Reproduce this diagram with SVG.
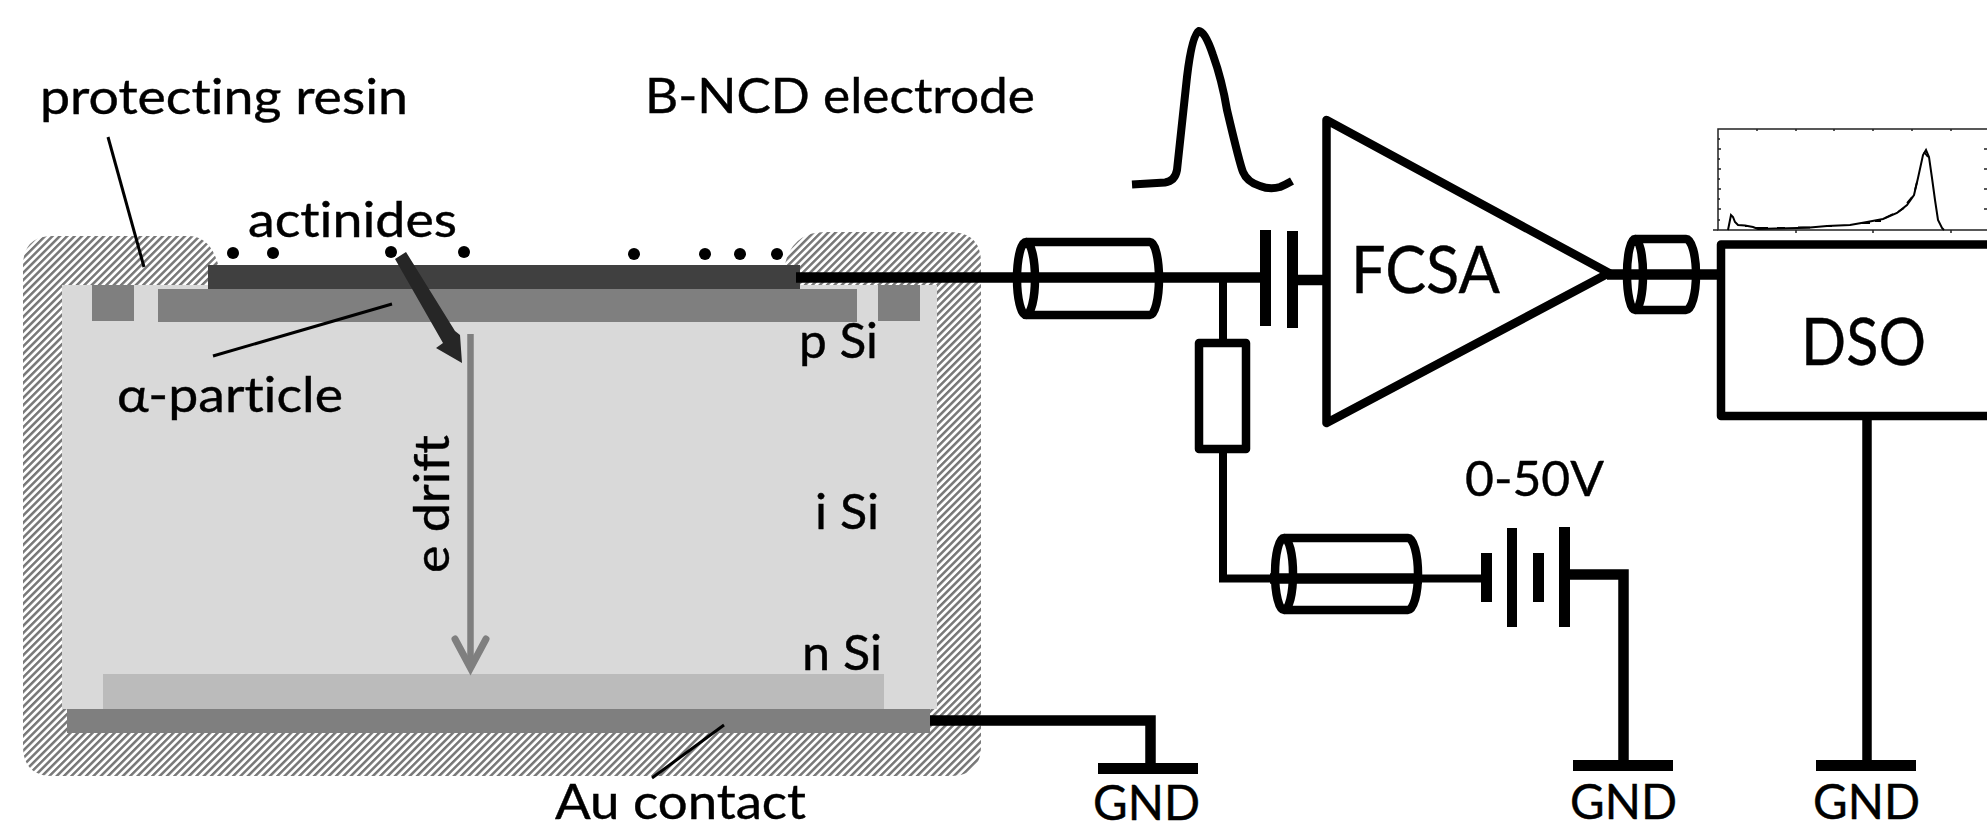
<svg xmlns="http://www.w3.org/2000/svg" width="1987" height="827" viewBox="0 0 1987 827">
<style>
text{font-family:"Lato","Open Sans","Liberation Sans",sans-serif;fill:#000;font-size:48px;font-variant-ligatures:none;stroke:#000;stroke-width:.4}
.big{font-size:66px}
.w{fill:none;stroke:#000;stroke-width:10.5}
.s{fill:none;stroke:#000;stroke-width:8.5;stroke-linejoin:round}
.f{fill:#fff;stroke:#000;stroke-width:8.5;stroke-linejoin:round}
.bar{fill:#000}
.lead{stroke:#000;stroke-width:3;fill:none}
.tick{stroke:#222;stroke-width:1.5;fill:none}
</style>
<defs>
<pattern id="hatch" width="5.2" height="5.2" patternUnits="userSpaceOnUse" patternTransform="rotate(45)">
<rect width="5.2" height="5.2" fill="#fff"/><rect width="2.5" height="5.2" fill="#777"/>
</pattern>
</defs>
<rect width="1987" height="827" fill="#fff"/>
<g id="detector">
<path id="resin" fill="url(#hatch)" d="M23,266Q23,236 53,236H188Q210,236 218,264V290H785V264Q793,232 825,232H950Q981,232 981,263V746Q981,776 950,776H53Q23,776 23,746Z"/>
<rect id="i-si" x="62" y="285" width="875" height="424" fill="#d9d9d9"/>
<rect id="n-si" x="103" y="674" width="781" height="35" fill="#bbb"/>
<rect id="au-contact" x="67" y="709" width="863" height="24" fill="#7f7f7f"/>
<rect id="p-si" x="158" y="289" width="699" height="33" fill="#7f7f7f"/>
<rect x="92" y="285" width="42" height="36" fill="#7f7f7f"/>
<rect x="878" y="285" width="42" height="36" fill="#7f7f7f"/>
<rect id="electrode" x="208" y="265" width="592" height="24" fill="#404040"/>
<g id="actinide-atoms" fill="#000">
<circle cx="233" cy="253" r="6"/><circle cx="273" cy="253" r="6"/><circle cx="391" cy="252" r="6"/><circle cx="464" cy="252" r="6"/>
<circle cx="634" cy="254" r="6"/><circle cx="705" cy="254" r="6"/><circle cx="740" cy="254" r="6"/><circle cx="777" cy="254" r="6"/>
</g>
<g id="alpha-arrow" fill="#262626">
<path d="M395,259L406,252L455,331L460,335L462,363L436,348L443,343Z"/>
</g>
<g id="drift-arrow" fill="none" stroke="#7f7f7f" stroke-width="6.5">
<path d="M470.5,334V668"/><path d="M455,639L470.5,668L486,639" stroke-width="7" stroke-linecap="round"/>
</g>
<path class="lead" d="M108,137L144,267"/>
<path class="lead" d="M392,304L213,356"/>
<path class="lead" d="M724,725L652,778"/>
</g>
<g id="connectors">
<path class="w" d="M796,277.5H1260"/>
<path class="w" d="M930,720.5H1150.5V763"/>
<path class="w" d="M1223,280V578.5H1483" style="stroke-width:8"/>
<path class="w" d="M1270,578.5H1422"/>
<path class="w" d="M1570,574.5H1623.5V762"/>
<path class="w" d="M1298,280H1326"/>
<path class="w" d="M1607,274.5H1722"/>
<path class="w" d="M1867,416V762" style="stroke-width:9.5"/>
</g>
<g id="coax-1"><path class="s" d="M1026,242H1150A9,36.5 0 0 1 1150,315H1026"/><ellipse class="s" cx="1026" cy="278.5" rx="9" ry="36.5"/></g>
<g id="coax-2"><path class="s" d="M1284,538H1408A10,36 0 0 1 1408,610H1284"/><ellipse class="s" cx="1284" cy="574" rx="9" ry="36"/></g>
<g id="coax-3"><path class="s" d="M1635,239H1686A10,35.500 0 0 1 1686,310H1635"/><ellipse class="s" cx="1635" cy="274.5" rx="8" ry="35.5"/></g>
<g id="capacitor"><rect class="bar" x="1260" y="230" width="11" height="96"/><rect class="bar" x="1287" y="231" width="11" height="97"/></g>
<g id="resistor"><rect class="f" x="1199" y="343" width="47" height="106"/></g>
<g id="amplifier"><path class="s" d="M1326.5,120L1609,273L1326.5,423Z"/><text class="big" x="1351" y="293" textLength="149" lengthAdjust="spacingAndGlyphs">FCSA</text></g>
<g id="battery"><rect class="bar" x="1481" y="553" width="11" height="49"/><rect class="bar" x="1507" y="528" width="10" height="99"/><rect class="bar" x="1533" y="553" width="11" height="49"/><rect class="bar" x="1559" y="527" width="11" height="100"/><text x="1465" y="496" textLength="139" lengthAdjust="spacingAndGlyphs">0-50V</text></g>
<g id="dso"><path class="s" d="M1995,244.5H1721V416H1995"/><text class="big" x="1801" y="365" textLength="125" lengthAdjust="spacingAndGlyphs">DSO</text></g>
<g id="pulse"><path fill="none" stroke="#000" stroke-width="8" d="M1132,184.500L1165,182.500Q1175,181 1177,170L1187,77Q1192,35 1199,31Q1205,31 1213,55Q1222,80 1227,110Q1240,165 1243,172Q1247,182 1260,186Q1270,190 1280,187Q1285,185 1292,181"/></g>
<g id="spectrum">
<path class="tick" d="M1987,129H1718V230H1987"/>
<path class="tick" d="M1757,129v2M1796,129v2M1834,129v2M1873,129v2M1912,129v2M1951,129v2M1796,230v3M1873,230v3M1951,230v3M1718,139h2M1718,149h3M1718,159h2M1718,169h3M1718,179h2M1718,189h3M1718,199h2M1718,209h3M1718,220h2M1713,230h5M1984,149h3M1984,169h3M1984,189h3M1984,209h3"/>
<path fill="none" stroke="#000" stroke-width="2" d="M1728,230L1731,215L1733,217L1735,222L1738,225L1745,225.500L1753,227L1758,229L1775,228.500L1797,228L1810,227.500L1827,226L1850,225L1867,222L1883,219L1897,213L1907,205L1914,195L1918,178L1923,155L1926,150L1929,157L1932,178L1935,200L1938,220L1942,228L1944,230"/>
<path fill="none" stroke="#000" stroke-width="1.8" d="M1745,226h3M1756,228h12M1777,228h8M1798,227.500h12M1826,226h6M1862,223h8M1875,221h6M1885,218l8,-4M1898,212l6,-4M1907,203l5,-6M1915,190l2,-8M1924,152l4,5"/>
</g>
<g id="ground-1"><rect class="bar" x="1098" y="763" width="100" height="11"/><text x="1093" y="820" textLength="107" lengthAdjust="spacingAndGlyphs">GND</text></g>
<g id="ground-2"><rect class="bar" x="1573" y="760" width="100" height="11"/><text x="1570" y="819" textLength="107" lengthAdjust="spacingAndGlyphs">GND</text></g>
<g id="ground-3"><rect class="bar" x="1816" y="760" width="100" height="11"/><text x="1813" y="819" textLength="107" lengthAdjust="spacingAndGlyphs">GND</text></g>
<g id="labels">
<text x="40" y="114" textLength="368" lengthAdjust="spacingAndGlyphs">protecting resin</text>
<text x="645" y="113" textLength="390" lengthAdjust="spacingAndGlyphs">B-NCD electrode</text>
<text x="248" y="237" textLength="209" lengthAdjust="spacingAndGlyphs">actinides</text>
<text x="117" y="412" textLength="226" lengthAdjust="spacingAndGlyphs">α-particle</text>
<text x="799" y="358" textLength="79" lengthAdjust="spacingAndGlyphs">p Si</text>
<text x="815" y="529" textLength="64" lengthAdjust="spacingAndGlyphs">i Si</text>
<text x="802" y="670" textLength="80" lengthAdjust="spacingAndGlyphs">n Si</text>
<text x="555" y="819" textLength="251" lengthAdjust="spacingAndGlyphs">Au contact</text>
<text transform="translate(449,573) rotate(-90)" textLength="138" lengthAdjust="spacingAndGlyphs">e drift</text>
</g>
</svg>
